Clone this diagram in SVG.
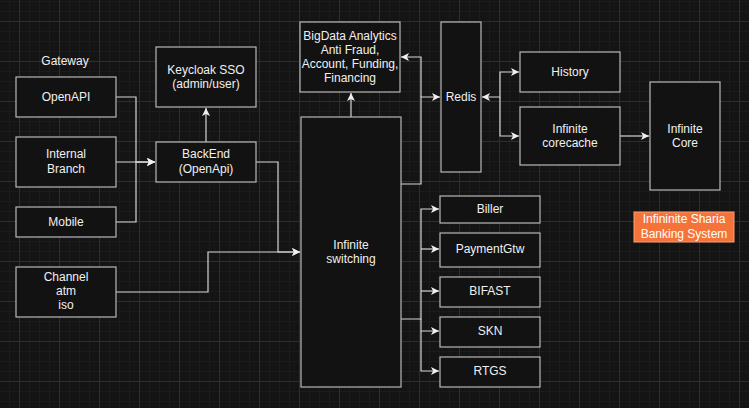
<svg xmlns="http://www.w3.org/2000/svg" width="749" height="408" viewBox="0 0 749 408">
<style>
.box{fill:#121212;stroke:#b8b8b8;stroke-width:1.2}
.t{font-family:"Liberation Sans",Arial,Helvetica,sans-serif;font-size:12px;fill:#f0f0f0;text-anchor:middle}
.c{fill:none;stroke:#d6d6d6;stroke-width:1.2}
.orange{fill:#f4733a;stroke:#ff9f70;stroke-width:1}
</style>
<defs>
<pattern id="grid" patternUnits="userSpaceOnUse" x="19" y="21" width="40" height="40">
<rect width="40" height="40" fill="#141414"/>
<rect x="10" y="0" width="1" height="40" fill="#1b1b1b"/>
<rect x="20" y="0" width="1" height="40" fill="#1b1b1b"/>
<rect x="30" y="0" width="1" height="40" fill="#1b1b1b"/>
<rect x="0" y="10" width="40" height="1" fill="#1b1b1b"/>
<rect x="0" y="20" width="40" height="1" fill="#1b1b1b"/>
<rect x="0" y="30" width="40" height="1" fill="#1b1b1b"/>
<rect x="0" y="0" width="1" height="40" fill="#2e2e2e"/>
<rect x="0" y="0" width="40" height="1" fill="#2e2e2e"/>
</pattern>
<marker id="arr" markerUnits="userSpaceOnUse" markerWidth="10" markerHeight="10" refX="8" refY="4" orient="auto">
<path d="M0,0 L8,4 L0,8 L2,4 Z" fill="#f0f0f0"/>
</marker>
<marker id="arrs" markerUnits="userSpaceOnUse" markerWidth="10" markerHeight="10" refX="0" refY="4" orient="auto">
<path d="M8,0 L0,4 L8,8 L6,4 Z" fill="#f0f0f0"/>
</marker>
</defs>
<rect width="749" height="408" fill="url(#grid)"/>

<g id="connectors">
<path class="c" d="M116,97 H136 V162 H155" marker-end="url(#arr)"/>
<path class="c" d="M116,162 H155" marker-end="url(#arr)"/>
<path class="c" d="M116,222 H136 V162 H155" marker-end="url(#arr)"/>
<path class="c" d="M206,142 V108" marker-end="url(#arr)"/>
<path class="c" d="M256,162 H278 V252 H300" marker-end="url(#arr)"/>
<path class="c" d="M116,292 H208 V252 H300" marker-end="url(#arr)"/>
<path class="c" d="M351,117 V93" marker-end="url(#arr)"/>
<path class="c" d="M401,184 H421 V97 H440" marker-end="url(#arr)"/>
<path class="c" d="M421,97 V57 H401" marker-end="url(#arr)"/>
<path class="c" d="M482,97 H500 V72 H519" marker-start="url(#arrs)" marker-end="url(#arr)"/>
<path class="c" d="M500,97 V136 H519" marker-end="url(#arr)"/>
<path class="c" d="M620,136 H649" marker-end="url(#arr)"/>
<path class="c" d="M401,319 H421 V209 H439" marker-end="url(#arr)"/>
<path class="c" d="M421,249 H439" marker-end="url(#arr)"/>
<path class="c" d="M421,291 H439" marker-end="url(#arr)"/>
<path class="c" d="M421,319 V331 H439" marker-end="url(#arr)"/>
<path class="c" d="M421,331 V371 H439" marker-end="url(#arr)"/>
</g>

<g id="gateway-label"><text class="t" x="65" y="65">Gateway</text></g>
<g id="openapi"><rect class="box" x="16" y="77" width="100" height="40"/><text class="t" x="66" y="101.3">OpenAPI</text></g>
<g id="internal-branch"><rect class="box" x="16" y="137" width="100" height="50"/><text class="t" x="66" y="158.3">Internal</text><text class="t" x="66" y="172.6">Branch</text></g>
<g id="mobile"><rect class="box" x="16" y="207" width="100" height="30"/><text class="t" x="66" y="226.3">Mobile</text></g>
<g id="channel"><rect class="box" x="16" y="267" width="100" height="50"/><text class="t" x="66" y="281.3">Channel</text><text class="t" x="66" y="295.3">atm</text><text class="t" x="66" y="309.3">iso</text></g>
<g id="keycloak"><rect class="box" x="156" y="47" width="100" height="60"/><text class="t" x="206" y="74.3">Keycloak SSO</text><text class="t" x="206" y="88.3">(admin/user)</text></g>
<g id="backend"><rect class="box" x="156" y="142" width="100" height="40"/><text class="t" x="206" y="158.3">BackEnd</text><text class="t" x="206" y="172.6">(OpenApi)</text></g>
<g id="bigdata"><rect class="box" x="300" y="22" width="100" height="70"/><text class="t" x="350" y="39.5">BigData Analytics</text><text class="t" x="350" y="53.5">Anti Fraud,</text><text class="t" x="350" y="67.5">Account, Funding,</text><text class="t" x="350" y="81.5">Financing</text></g>
<g id="switching"><rect class="box" x="301" y="117" width="100" height="270"/><text class="t" x="351" y="249.3">Infinite</text><text class="t" x="351" y="263.3">switching</text></g>
<g id="redis"><rect class="box" x="441" y="22" width="40" height="150"/><text class="t" x="461" y="101.3">Redis</text></g>
<g id="history"><rect class="box" x="520" y="52" width="100" height="40"/><text class="t" x="570" y="76.3">History</text></g>
<g id="corecache"><rect class="box" x="520" y="107" width="100" height="58"/><text class="t" x="570" y="133.3">Infinite</text><text class="t" x="570" y="147.3">corecache</text></g>
<g id="core"><rect class="box" x="650" y="82" width="70" height="108"/><text class="t" x="685" y="133.3">Infinite</text><text class="t" x="685" y="147.3">Core</text></g>
<g id="biller"><rect class="box" x="440" y="196" width="100" height="27"/><text class="t" x="490" y="213">Biller</text></g>
<g id="paymentgtw"><rect class="box" x="440" y="233" width="100" height="34"/><text class="t" x="490" y="253.3">PaymentGtw</text></g>
<g id="bifast"><rect class="box" x="440" y="277" width="100" height="30"/><text class="t" x="490" y="295.3">BIFAST</text></g>
<g id="skn"><rect class="box" x="440" y="317" width="100" height="30"/><text class="t" x="490" y="335.3">SKN</text></g>
<g id="rtgs"><rect class="box" x="440" y="357" width="100" height="30"/><text class="t" x="490" y="375.3">RTGS</text></g>
<g id="sharia-label"><rect class="orange" x="634" y="212" width="100" height="30"/><text class="t" x="684" y="223.3" style="fill:#ffffff">Infininite Sharia</text><text class="t" x="684" y="237.6" style="fill:#ffffff">Banking System</text></g>
</svg>
